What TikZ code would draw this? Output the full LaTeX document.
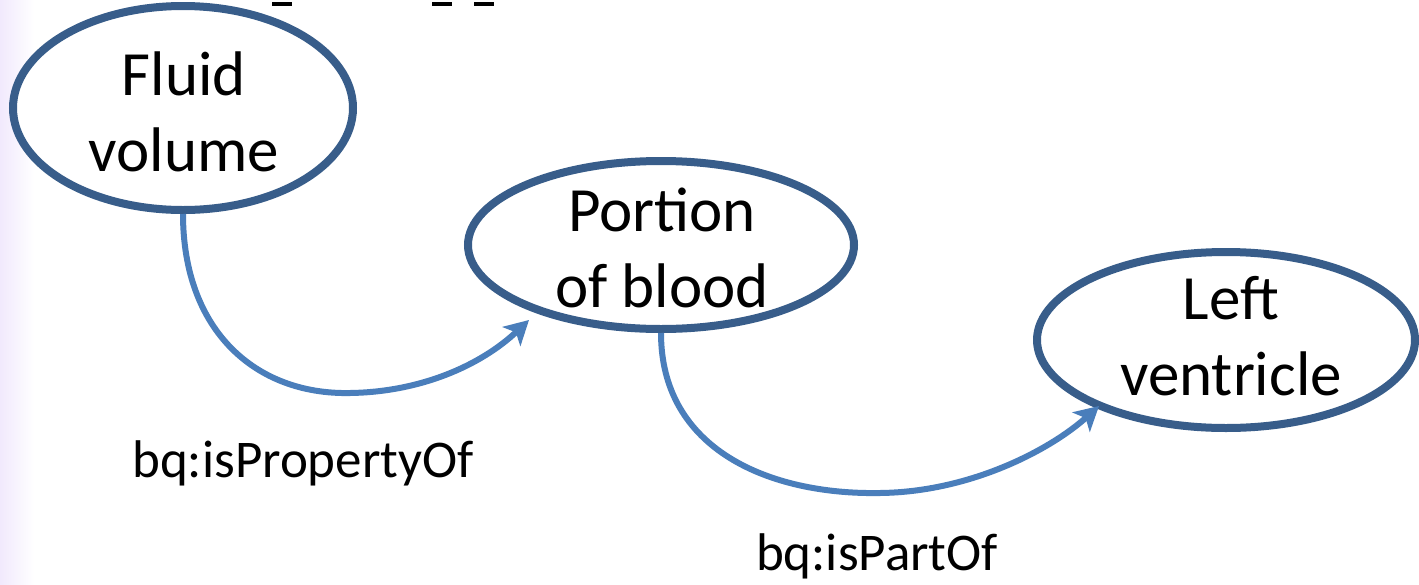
\documentclass[tikz,border=0pt]{standalone}
\usepackage{fontspec}
\setmainfont{Carlito}
\usetikzlibrary{shapes.geometric,arrows.meta}
\definecolor{ringblue}{HTML}{385D8A}
\definecolor{linkblue}{HTML}{4A7EBB}
\definecolor{edgetint}{HTML}{F1E9FD}
\begin{document}
\begin{tikzpicture}[x=1pt,y=-1pt,
  concept/.style={ellipse,draw=ringblue,line width=8pt,fill=white,inner sep=0pt},
  conceptlabel/.style={align=center,font=\fontsize{63}{76}\selectfont,text=black},
  relation/.style={draw=linkblue,line width=6pt,
    -{Stealth[length=24pt,width=26pt,inset=6pt]}},
  relationlabel/.style={font=\fontsize{53}{60}\selectfont,text=black}]
  % page and tinted left margin
  \useasboundingbox (0,0) rectangle (1419,584);
  \fill[white] (0,0) rectangle (1419,584);
  \shade[left color=edgetint,right color=white] (0,0) rectangle (34,584);
  % clipped text remnants along the top edge
  \fill[black] (272,2) rectangle (292,6);
  \fill[black] (432,2) rectangle (452,6);
  \fill[black] (474,2) rectangle (494,6);
  % concepts
  \node[concept,minimum width=340pt,minimum height=204pt] (fluid) at (183,108) {};
  \node[conceptlabel] (fluidtext) at (184,112) {Fluid\\volume};
  \node[concept,minimum width=386pt,minimum height=168pt] (portion) at (661,245) {};
  \node[conceptlabel] (portiontext) at (662,248) {Portion\\of blood};
  \node[concept,minimum width=378pt,minimum height=176pt] (ventricle) at (1226,340) {};
  \node[conceptlabel] (ventricletext) at (1231,336) {Left\\ventricle};
  % arrow tips on the target rims
  \coordinate (tipone) at (529,320);
  \coordinate (tiptwo) at (1099,406);
  % relations
  \draw[relation] (fluid.south) .. controls (183,330) and (255,395) .. (350,393)
    .. controls (420,392) and (480,366) .. (tipone);
  \draw[relation] (portion.south) .. controls (661,450) and (770,495) .. (880,493)
    .. controls (970,492) and (1050,450) .. (tiptwo);
  \node[relationlabel] (propertyof) at (303,463) {bq:isPropertyOf};
  \node[relationlabel] (partof) at (877,556) {bq:isPartOf};
\end{tikzpicture}
\end{document}
